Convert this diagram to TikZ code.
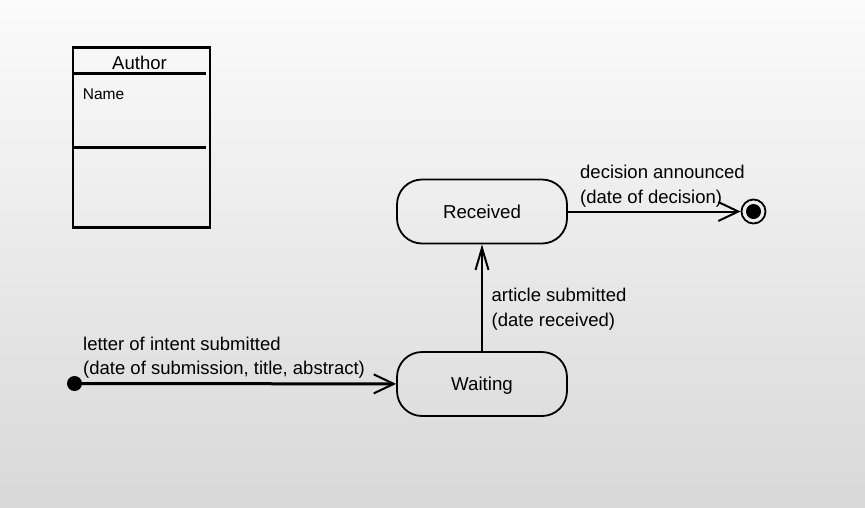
\documentclass[tikz,border=0pt]{standalone}
\usepackage{fontspec}
\setmainfont{Liberation Sans}
\usetikzlibrary{arrows.meta, positioning}
\definecolor{bgtop}{HTML}{FBFBFB}
\definecolor{bgbottom}{HTML}{D8D8D8}

\begin{document}
\begin{tikzpicture}[x=1pt, y=-1pt, on grid, node distance=172.5pt,
  state/.style={rectangle, rounded corners=25pt, draw, line width=1.8pt, minimum width=170pt, minimum height=64pt, font=\fontsize{18.7}{22}\selectfont, text height=13.5pt, text depth=0pt},
  lbl/.style={anchor=base west, inner sep=0pt, font=\fontsize{18.5}{25}\selectfont},
  trans/.style={line width=2pt, -{Straight Barb[length=20pt, width=19pt, line width=2pt]}}]

            % background
            \useasboundingbox (0,0) rectangle (865,507);
            \shade[top color=bgtop, bottom color=bgbottom] (0,0) rectangle (865,507);

            % class box
            \node[draw, line width=2.3pt, minimum width=137pt, minimum height=180pt, inner sep=0pt] (author) at (141.5,137.5) {};
            \node[anchor=base, inner sep=0pt, font=\fontsize{18.5}{22}\selectfont] (authortitle) at (139.5,69) {Author};
            \node[anchor=base west, inner sep=0pt, font=\fontsize{15.5}{18}\selectfont] (authorattr) at (82.7,99.3) {Name};
            \draw[line width=2.3pt] (author.north west) ++(0,27) -- ++(134,0);
            \draw[line width=2.3pt] (author.north west) ++(0,101) -- ++(134,0);

            % states
            \node[circle, fill, inner sep=0pt, minimum size=15pt] (init) at (74.5,383.5) {};
            \node[state] (waiting) at (482,384) {Waiting};
            \node[state, above=of waiting] (received) {Received};
            \node[circle, draw, line width=1.8pt, inner sep=0pt, minimum size=24pt, right=271.5pt of received] (final) {};
            \node[circle, fill, inner sep=0pt, minimum size=15pt] (finaldot) at (final) {};

            \draw[trans, line width=3pt] (init) -- (waiting);
            \draw[trans, -{Straight Barb[length=22pt, width=13pt, line width=2pt]}] (waiting) -- (received);
            \draw[trans] (received) -- (final);

            % labels
            \node[lbl] (letterA) at (83,350) {letter of intent submitted};
            \node[lbl] (letterB) at (83,374) {(date of submission, title, abstract)};
            \node[lbl] (articleA) at (491.5,301) {article submitted};
            \node[lbl] (articleB) at (491.5,326.5) {(date received)};
            \node[lbl] (decisionA) at (580,178) {decision announced};
            \node[lbl] (decisionB) at (580,203) {(date of decision)};

        \end{tikzpicture}
\end{document}
